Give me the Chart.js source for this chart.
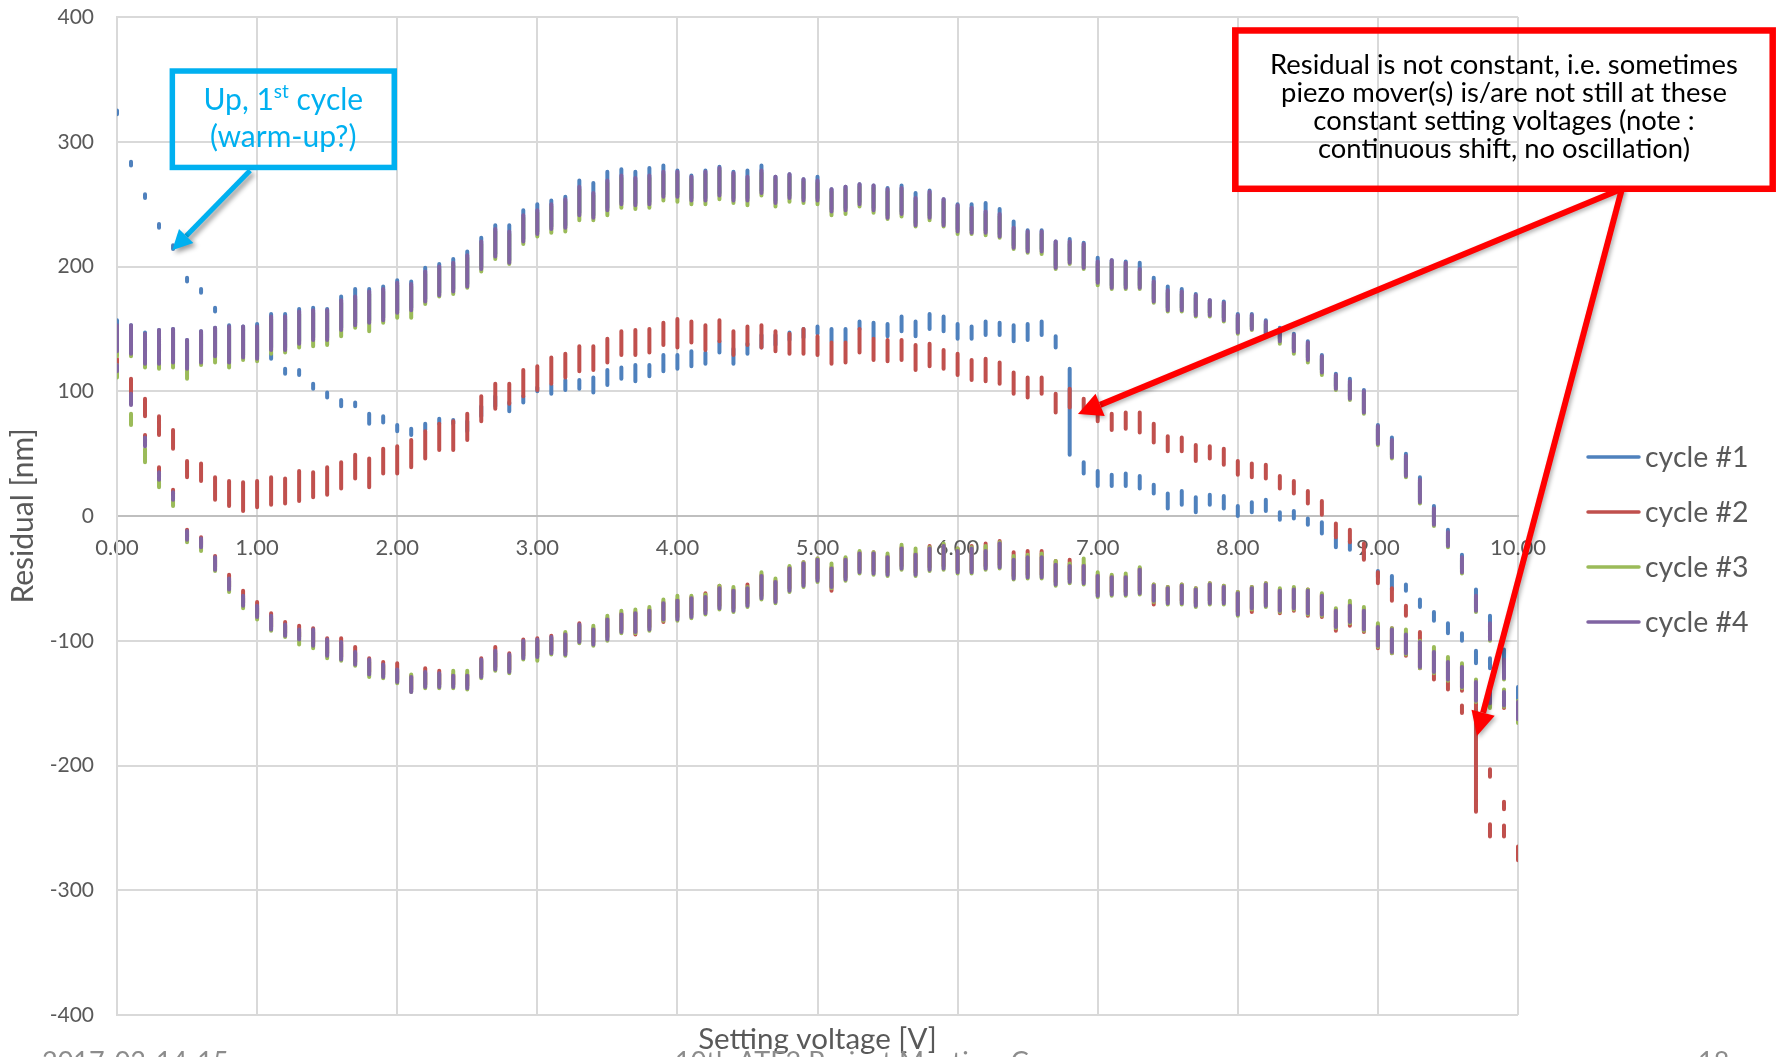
<!DOCTYPE html>
<html>
<head>
<meta charset="utf-8">
<title>Residual vs setting voltage</title>
<script src="https://cdn.jsdelivr.net/npm/chart.js@4.4.1/dist/chart.umd.min.js"></script>
<style>
    html, body { margin: 0; padding: 0; background: #ffffff; }
    #wrap { width: 1779px; height: 1057px; position: relative; }
</style>
</head>
<body>
<div id="wrap"><canvas id="residual-chart"></canvas></div>
<script>
// setting voltages [V]
var voltages = [
    0.0, 0.1, 0.2, 0.3, 0.4, 0.5, 0.6, 0.7, 0.8, 0.9,
    1.0, 1.1, 1.2, 1.3, 1.4, 1.5, 1.6, 1.7, 1.8, 1.9,
    2.0, 2.1, 2.2, 2.3, 2.4, 2.5, 2.6, 2.7, 2.8, 2.9,
    3.0, 3.1, 3.2, 3.3, 3.4, 3.5, 3.6, 3.7, 3.8, 3.9,
    4.0, 4.1, 4.2, 4.3, 4.4, 4.5, 4.6, 4.7, 4.8, 4.9,
    5.0, 5.1, 5.2, 5.3, 5.4, 5.5, 5.6, 5.7, 5.8, 5.9,
    6.0, 6.1, 6.2, 6.3, 6.4, 6.5, 6.6, 6.7, 6.8, 6.9,
    7.0, 7.1, 7.2, 7.3, 7.4, 7.5, 7.6, 7.7, 7.8, 7.9,
    8.0, 8.1, 8.2, 8.3, 8.4, 8.5, 8.6, 8.7, 8.8, 8.9,
    9.0, 9.1, 9.2, 9.3, 9.4, 9.5, 9.6, 9.7, 9.8, 9.9, 10.0
];

// each entry = [min, max] of the residual readings [nm] at one voltage

// cycle #1, first sweep (warm-up)
var c1Warm = [
    [322,325],[281,284],[255,258],[231,234],[214,217],[188,191],[179,182],[164,167],[148,152],[139,144],
    [133,138],[126,130],[114,118],[113,117],[102,106],[95,99],[88,93],[88,91],[74,82],[75,80],
    [68,73],[65,70],[69,74],[74,78],[74,77],[68,76],[80,88],[88,96],[84,91],[91,96],
    [100,103],[98,105],[101,109],[102,109],[99,111],[105,117],[110,119],[108,121],[112,121],[116,129],
    [118,129],[120,132],[122,131],[131,140],[122,134],[130,138],[135,145],[137,145],[141,147],[143,150],
    [146,152],[140,150],[140,150],[150,156],[143,155],[144,154],[148,160],[144,156],[150,162],[148,160],
    [142,154],[142,152],[145,156],[145,155],[140,153],[141,154],[145,156],[135,144],[49,118],[34,43],
    [24,36],[24,33],[24,34],[22,32],[18,25],[6,18],[9,20],[3,15],[9,17],[6,16],
    [0,8],[3,11],[4,13],[-3,3],[-2,4],[-7,-2],[-14,-5],[-25,-18],[-27,-20],[-34,-29],
    [-49,-44],[-59,-48],[-60,-55],[-73,-67],[-84,-77],[-94,-86],[-100,-94],[-118,-108],[-122,-114],[-129,-123],[-143,-138]
];

// cycle #1, upper branch
var c1Upper = [
    [134,157],[132,153],[124,147],[124,149],[125,150],[120,141],[125,148],[130,151],[125,153],[129,152],
    [128,154],[135,162],[135,162],[140,166],[143,167],[143,166],[151,176],[155,182],[157,182],[159,184],
    [165,189],[167,188],[174,199],[179,202],[182,206],[186,212],[200,223],[210,233],[205,233],[222,245],
    [228,250],[232,253],[233,256],[243,269],[241,267],[247,276],[252,278],[251,276],[252,279],[258,281],
    [258,277],[255,273],[255,277],[259,280],[255,276],[255,277],[261,281],[253,272],[257,274],[255,270],
    [255,272],[246,262],[247,264],[252,266],[247,265],[241,263],[244,265],[235,259],[241,261],[235,254],
    [230,250],[229,250],[229,251],[226,246],[217,236],[214,229],[214,229],[201,220],[205,222],[201,219],
    [189,207],[185,205],[185,204],[185,203],[174,191],[167,184],[167,182],[163,178],[163,173],[159,172],
    [149,162],[152,162],[147,157],[142,151],[134,146],[127,140],[117,129],[104,114],[96,110],[85,101],
    [60,73],[49,63],[34,50],[13,31],[-5,8],[-22,-11],[-43,-31],[-74,-59],[-97,-80],[-128,-107],[-161,-137]
];

// cycle #2, middle sweep
var c2Mid = [
    [119,126],[94,110],[80,94],[65,80],[54,69],[31,44],[28,42],[13,31],[8,28],[4,27],
    [7,28],[9,31],[10,30],[12,36],[15,35],[17,39],[22,43],[30,49],[23,46],[34,54],
    [34,56],[39,61],[46,68],[53,74],[53,76],[61,82],[76,96],[86,106],[90,106],[96,117],
    [101,120],[106,127],[111,130],[116,136],[117,136],[123,142],[129,148],[129,149],[131,150],[137,155],
    [135,158],[139,156],[133,153],[140,157],[129,148],[137,152],[135,153],[132,148],[130,146],[130,150],
    [129,144],[122,139],[123,139],[131,150],[125,142],[124,141],[125,141],[117,137],[120,138],[118,133],
    [113,130],[109,125],[108,126],[106,123],[98,115],[95,111],[98,111],[83,98],[87,102],[85,94],
    [76,88],[69,82],[70,83],[67,83],[59,74],[52,64],[52,63],[44,57],[46,56],[41,54],
    [33,44],[31,42],[30,41],[22,32],[18,28],[10,20],[1,12],[-17,-6],[-21,-11],[-35,-22],
    [-54,-45],[-68,-58],[-80,-72],[-99,-93],[-131,-115],[-139,-123],[-158,-152],[-237,-146],[-209,-203],[-235,-229],[-276,-265]
];
// cycle #2, second reading group near the end of the sweep
var c2ExtraVolts = [9.8, 9.9];
var c2Extra = [[-257,-247],[-257,-248]];

// cycle #2, lower branch
var c2Lower = [
    [118,123],[91,100],[58,65],[34,39],[17,21],[-17,-11],[-23,-17],[-41,-32],[-57,-47],[-70,-60],
    [-79,-69],[-89,-78],[-94,-85],[-97,-88],[-102,-90],[-110,-98],[-113,-98],[-117,-105],[-125,-114],[-127,-117],
    [-131,-118],[-139,-128],[-135,-122],[-135,-124],[-135,-127],[-136,-127],[-127,-114],[-121,-105],[-123,-110],[-112,-99],
    [-111,-98],[-108,-96],[-109,-94],[-99,-86],[-101,-90],[-97,-82],[-91,-78],[-95,-77],[-89,-75],[-85,-69],
    [-81,-67],[-79,-65],[-76,-62],[-72,-56],[-74,-59],[-70,-55],[-64,-47],[-67,-52],[-58,-41],[-54,-37],
    [-50,-34],[-60,-41],[-49,-34],[-43,-29],[-44,-29],[-45,-32],[-40,-25],[-45,-30],[-41,-24],[-40,-23],
    [-43,-26],[-43,-24],[-40,-22],[-39,-20],[-48,-29],[-47,-28],[-47,-28],[-53,-36],[-51,-35],[-52,-39],
    [-62,-47],[-61,-48],[-61,-48],[-60,-42],[-71,-55],[-68,-57],[-68,-55],[-70,-58],[-68,-54],[-68,-56],
    [-77,-61],[-77,-57],[-70,-54],[-78,-59],[-76,-58],[-80,-59],[-81,-63],[-92,-75],[-88,-71],[-93,-75],
    [-106,-88],[-110,-90],[-112,-94],[-122,-100],[-127,-108],[-134,-116],[-140,-120],[-150,-132],[-152,-137],[-154,-140],[-165,-149]
];

// cycle #3
var c3Upper = [
    [128,151],[128,151],[119,144],[118,147],[119,148],[110,139],[121,146],[123,149],[119,150],[125,150],
    [124,150],[130,158],[131,158],[135,162],[136,163],[137,163],[144,171],[151,174],[148,178],[155,180],
    [159,185],[159,184],[170,194],[176,198],[178,201],[183,207],[196,218],[206,228],[202,226],[218,239],
    [224,243],[227,248],[228,252],[237,262],[237,257],[241,267],[247,271],[246,269],[247,271],[253,274],
    [252,274],[250,270],[250,274],[254,277],[251,273],[249,270],[257,275],[248,270],[252,272],[251,268],
    [250,267],[241,260],[242,262],[248,264],[243,263],[238,260],[240,261],[232,253],[237,258],[232,252],
    [226,247],[226,245],[225,242],[223,240],[214,229],[211,226],[210,226],[198,218],[202,218],[198,216],
    [185,202],[182,203],[182,201],[182,196],[171,186],[164,179],[164,178],[160,175],[160,171],[156,169],
    [146,159],[149,159],[144,154],[138,148],[130,143],[123,137],[113,126],[101,111],[93,106],[82,98],
    [57,70],[46,59],[31,46],[10,27],[-8,4],[-25,-15],[-46,-35],[-77,-66],[-100,-88],[-131,-117],[-166,-151]
];
var c3Lower = [
    [111,121],[73,82],[43,54],[23,30],[8,13],[-21,-14],[-28,-20],[-44,-35],[-61,-52],[-74,-66],
    [-83,-74],[-92,-82],[-97,-88],[-103,-93],[-106,-93],[-114,-101],[-116,-103],[-120,-110],[-129,-117],[-130,-120],
    [-134,-124],[-141,-127],[-138,-126],[-138,-127],[-138,-124],[-139,-124],[-130,-116],[-124,-110],[-126,-112],[-115,-101],
    [-116,-100],[-111,-98],[-112,-93],[-102,-88],[-104,-88],[-100,-80],[-94,-76],[-94,-75],[-92,-73],[-84,-67],
    [-84,-64],[-82,-64],[-79,-63],[-75,-56],[-77,-57],[-73,-57],[-67,-45],[-70,-50],[-61,-40],[-57,-37],
    [-53,-34],[-58,-38],[-52,-33],[-46,-28],[-47,-29],[-48,-30],[-43,-23],[-48,-26],[-44,-25],[-43,-22],
    [-46,-26],[-46,-25],[-43,-24],[-42,-21],[-51,-32],[-50,-31],[-50,-30],[-56,-36],[-54,-38],[-55,-34],
    [-65,-45],[-64,-47],[-64,-46],[-63,-41],[-69,-55],[-71,-57],[-71,-55],[-73,-58],[-71,-54],[-71,-56],
    [-80,-61],[-75,-57],[-73,-54],[-77,-58],[-75,-57],[-79,-59],[-80,-62],[-90,-74],[-86,-68],[-92,-73],
    [-105,-86],[-110,-90],[-111,-91],[-122,-100],[-126,-105],[-132,-113],[-138,-118],[-149,-131],[-154,-135],[-153,-139],[-166,-148]
];

// cycle #4
var c4Upper = [
    [132,153],[130,153],[122,146],[122,149],[123,150],[118,141],[123,148],[128,151],[123,152],[127,152],
    [126,152],[133,160],[133,160],[138,164],[141,165],[141,165],[149,173],[153,176],[155,180],[157,182],
    [163,187],[165,186],[172,196],[177,200],[180,203],[184,209],[198,220],[208,230],[203,228],[220,241],
    [226,245],[230,250],[231,254],[241,264],[239,259],[245,269],[250,273],[249,271],[250,273],[256,276],
    [256,276],[253,272],[253,276],[257,279],[253,275],[253,272],[259,277],[251,272],[255,274],[253,270],
    [253,269],[244,262],[245,264],[250,266],[245,265],[239,262],[242,263],[233,255],[239,260],[233,254],
    [228,249],[227,247],[227,244],[224,242],[215,231],[212,228],[212,228],[199,220],[203,220],[199,218],
    [187,204],[183,205],[183,203],[183,198],[172,188],[165,181],[165,180],[161,177],[161,173],[157,171],
    [147,161],[150,161],[145,156],[140,150],[132,145],[125,139],[115,128],[102,113],[94,108],[83,100],
    [58,72],[47,61],[32,48],[11,29],[-7,6],[-24,-13],[-45,-33],[-76,-64],[-99,-86],[-130,-115],[-163,-149]
];
var c4Lower = [
    [116,121],[89,98],[56,63],[29,35],[13,19],[-19,-12],[-25,-18],[-43,-33],[-59,-50],[-72,-64],
    [-81,-72],[-91,-80],[-96,-87],[-99,-91],[-104,-91],[-112,-99],[-115,-101],[-119,-109],[-127,-115],[-129,-119],
    [-133,-123],[-141,-129],[-137,-125],[-137,-126],[-137,-128],[-138,-128],[-129,-115],[-123,-108],[-125,-111],[-114,-100],
    [-113,-99],[-110,-97],[-111,-95],[-101,-87],[-103,-91],[-99,-83],[-93,-79],[-93,-78],[-91,-76],[-83,-70],
    [-83,-68],[-81,-66],[-78,-65],[-74,-58],[-76,-60],[-72,-58],[-66,-48],[-69,-53],[-60,-42],[-56,-38],
    [-52,-35],[-57,-42],[-51,-35],[-45,-30],[-46,-30],[-47,-33],[-42,-26],[-47,-31],[-43,-26],[-42,-24],
    [-45,-28],[-45,-26],[-42,-28],[-41,-22],[-50,-35],[-49,-33],[-49,-33],[-55,-39],[-53,-40],[-54,-40],
    [-64,-48],[-63,-49],[-63,-49],[-62,-43],[-68,-56],[-70,-58],[-70,-56],[-72,-59],[-70,-55],[-70,-57],
    [-79,-62],[-74,-58],[-72,-55],[-76,-60],[-74,-59],[-78,-60],[-79,-64],[-89,-76],[-85,-72],[-91,-76],
    [-104,-89],[-109,-91],[-110,-95],[-121,-101],[-125,-109],[-131,-117],[-137,-121],[-148,-133],[-150,-138],[-152,-141],[-163,-150]
];

var yTicks = [-400, -300, -200, -100, 0, 100, 200, 300, 400];

var cycleNames = ['cycle #1', 'cycle #2', 'cycle #3', 'cycle #4'];
var cycleColors = ['#4F81BD', '#C0504D', '#9BBB59', '#8064A2'];

// one vertical stroke per voltage: (v, min) -> (v, max), then a gap
function buildSegments(branches) {
    var pts = [];
    voltages.forEach(function (v, i) {
        branches.forEach(function (b) {
            var r = b[i];
            if (!r) return;
            pts.push({x: v, y: r[0]}, {x: v, y: r[1]}, {x: v, y: null});
        });
    });
    return pts;
}

var cycle2Points = buildSegments([c2Mid, c2Lower]);
c2ExtraVolts.forEach(function (v, i) {
    cycle2Points.push({x: v, y: c2Extra[i][0]}, {x: v, y: c2Extra[i][1]}, {x: v, y: null});
});

// annotation boxes, in data units
var warmNote = {x0: 0.395, x1: 1.979, y0: 356.7, y1: 279.4, tail: [0.95, 277], tip: [0.394, 213]};
var driftNote = {x0: 7.982, x1: 11.818, y0: 389.2, y1: 262.3, tail: [10.742, 262.3],
    tips: [[6.859, 81.7], [9.707, -176.3]],
    lines: ['Residual is not constant, i.e. sometimes',
            'piezo mover(s) is/are not still at these',
            'constant setting voltages (note :',
            'continuous shift, no oscillation)']};

function drawArrow(ctx, x1, y1, x2, y2, width, headLen, headHalf, color) {
    var ang = Math.atan2(y2 - y1, x2 - x1);
    var bx = x2 - headLen * Math.cos(ang), by = y2 - headLen * Math.sin(ang);
    ctx.strokeStyle = color;
    ctx.lineWidth = width;
    ctx.lineCap = 'butt';
    ctx.beginPath();
    ctx.moveTo(x1, y1);
    ctx.lineTo(bx, by);
    ctx.stroke();
    ctx.fillStyle = color;
    ctx.beginPath();
    ctx.moveTo(x2, y2);
    ctx.lineTo(bx + headHalf * Math.sin(ang), by - headHalf * Math.cos(ang));
    ctx.lineTo(bx - headHalf * Math.sin(ang), by + headHalf * Math.cos(ang));
    ctx.closePath();
    ctx.fill();
}

var slideNotes = {
    id: 'slideNotes',
    afterDraw: function (chart) {
        var ctx = chart.ctx, xs = chart.scales.x, ys = chart.scales.y;
        var px = function (v) { return xs.getPixelForValue(v); };
        var py = function (v) { return ys.getPixelForValue(v); };
        ctx.save();

        // x axis title
        ctx.fillStyle = '#595959';
        ctx.font = '29.5px Lato';
        ctx.textAlign = 'center';
        ctx.textBaseline = 'alphabetic';
        ctx.fillText('Setting voltage [V]', (xs.left + xs.right) / 2, 1049);

        // slide footer, cut by the picture edge
        ctx.fillStyle = '#8c8c8c';
        ctx.font = '27px Lato';
        ctx.textAlign = 'left';
        ctx.fillText('2017-03-14-15', 42, 1071);
        ctx.fillText('10th ATF2 Project Meeting, C', 675, 1071);
        ctx.fillText('18', 1698, 1071);

        // legend
        chart.data.datasets.forEach(function (ds, i) {
            var ly = 457 + i * 55;
            ctx.strokeStyle = ds.borderColor;
            ctx.lineWidth = 3.5;
            ctx.lineCap = 'round';
            ctx.beginPath();
            ctx.moveTo(1588, ly);
            ctx.lineTo(1639, ly);
            ctx.stroke();
            ctx.fillStyle = '#595959';
            ctx.font = '28.5px Lato';
            ctx.textAlign = 'left';
            ctx.textBaseline = 'middle';
            ctx.fillText(ds.label, 1645, ly + 1);
        });

        // cyan note
        var cyan = '#00B0F0';
        ctx.strokeStyle = cyan;
        ctx.lineWidth = 5.5;
        ctx.lineJoin = 'miter';
        ctx.strokeRect(px(warmNote.x0), py(warmNote.y0),
            px(warmNote.x1) - px(warmNote.x0), py(warmNote.y1) - py(warmNote.y0));
        var cx = (px(warmNote.x0) + px(warmNote.x1)) / 2;
        ctx.fillStyle = cyan;
        ctx.textBaseline = 'alphabetic';
        ctx.textAlign = 'left';
        ctx.font = '30px Lato';
        var a = 'Up, 1', c = ' cycle';
        var wa = ctx.measureText(a).width, wc = ctx.measureText(c).width;
        ctx.font = '19px Lato';
        var ws = ctx.measureText('st').width;
        var sx = cx - (wa + ws + wc) / 2;
        ctx.font = '30px Lato';
        ctx.fillText(a, sx, 110);
        ctx.fillText(c, sx + wa + ws, 110);
        ctx.font = '19px Lato';
        ctx.fillText('st', sx + wa, 98);
        ctx.font = '30px Lato';
        ctx.textAlign = 'center';
        ctx.fillText('(warm-up?)', cx, 147);

        ctx.save();
        ctx.shadowColor = 'rgba(0,0,0,0.4)';
        ctx.shadowBlur = 5;
        ctx.shadowOffsetX = 3;
        ctx.shadowOffsetY = 3;
        drawArrow(ctx, px(warmNote.tail[0]), py(warmNote.tail[1]), px(warmNote.tip[0]), py(warmNote.tip[1]),
            5, 20, 10, cyan);
        ctx.restore();

        // red note
        var red = '#FF0000';
        ctx.save();
        ctx.shadowColor = 'rgba(0,0,0,0.3)';
        ctx.shadowBlur = 4;
        ctx.shadowOffsetX = 2;
        ctx.shadowOffsetY = 2;
        driftNote.tips.forEach(function (t) {
            drawArrow(ctx, px(driftNote.tail[0]), py(driftNote.tail[1]), px(t[0]), py(t[1]), 6, 24, 12, red);
        });
        ctx.restore();
        ctx.strokeStyle = red;
        ctx.lineWidth = 6.5;
        ctx.strokeRect(px(driftNote.x0), py(driftNote.y0),
            px(driftNote.x1) - px(driftNote.x0), py(driftNote.y1) - py(driftNote.y0));
        ctx.fillStyle = '#000000';
        ctx.textAlign = 'center';
        ctx.font = '25px Lato';
        var fit = 468 / ctx.measureText(driftNote.lines[0]).width;
        ctx.font = (25 * fit).toFixed(1) + 'px Lato';
        var rx = (px(driftNote.x0) + px(driftNote.x1)) / 2;
        driftNote.lines.forEach(function (ln, i) {
            ctx.fillText(ln, rx, 74 + i * 28);
        });

        ctx.restore();
    }
};

Chart.defaults.font.family = 'Lato, "Open Sans", sans-serif';
Chart.defaults.color = '#595959';

function createChart() {
    new Chart(document.getElementById('residual-chart'), {
        type: 'line',
        data: {
            datasets: [
                {label: cycleNames[0], data: buildSegments([c1Warm, c1Upper]), borderColor: cycleColors[0], order: 4},
                {label: cycleNames[1], data: cycle2Points, borderColor: cycleColors[1], order: 3},
                {label: cycleNames[2], data: buildSegments([c3Upper, c3Lower]), borderColor: cycleColors[2], order: 2},
                {label: cycleNames[3], data: buildSegments([c4Upper, c4Lower]), borderColor: cycleColors[3], order: 1}
            ]
        },
        options: {
            responsive: true,
            maintainAspectRatio: false,
            animation: false,
            events: [],
            spanGaps: false,
            layout: {padding: {left: 0, top: 17, right: 261, bottom: 42}},
            elements: {
                point: {radius: 0, hoverRadius: 0},
                line: {borderWidth: 4, borderCapStyle: 'round', tension: 0, fill: false}
            },
            plugins: {
                legend: {display: false},
                tooltip: {enabled: false}
            },
            scales: {
                x: {
                    type: 'linear',
                    min: 0,
                    max: 10,
                    position: {y: 0},
                    ticks: {
                        stepSize: 1,
                        maxRotation: 0,
                        padding: 19,
                        font: {size: 22},
                        color: '#595959',
                        callback: function (v) { return v.toFixed(2); }
                    },
                    grid: {color: '#d9d9d9', lineWidth: 2, drawTicks: false},
                    border: {color: '#bfbfbf', width: 2}
                },
                y: {
                    min: yTicks[0],
                    max: yTicks[yTicks.length - 1],
                    afterBuildTicks: function (scale) {
                        scale.ticks = yTicks.map(function (v) { return {value: v}; });
                    },
                    ticks: {padding: 3, font: {size: 21}, color: '#595959'},
                    // invisible tick marks keep the labels away from the axis
                    grid: {color: '#d9d9d9', lineWidth: 2, drawTicks: true, tickLength: 20, tickColor: 'rgba(0,0,0,0)'},
                    border: {color: '#d9d9d9', width: 2},
                    title: {
                        display: true,
                        text: 'Residual [nm]',
                        color: '#595959',
                        font: {size: 30},
                        padding: {top: 5, bottom: 0}
                    },
                    afterFit: function (scale) { scale.width = 117; }
                }
            }
        },
        plugins: [slideNotes]
    });
}

createChart();
</script>
</body>
</html>
